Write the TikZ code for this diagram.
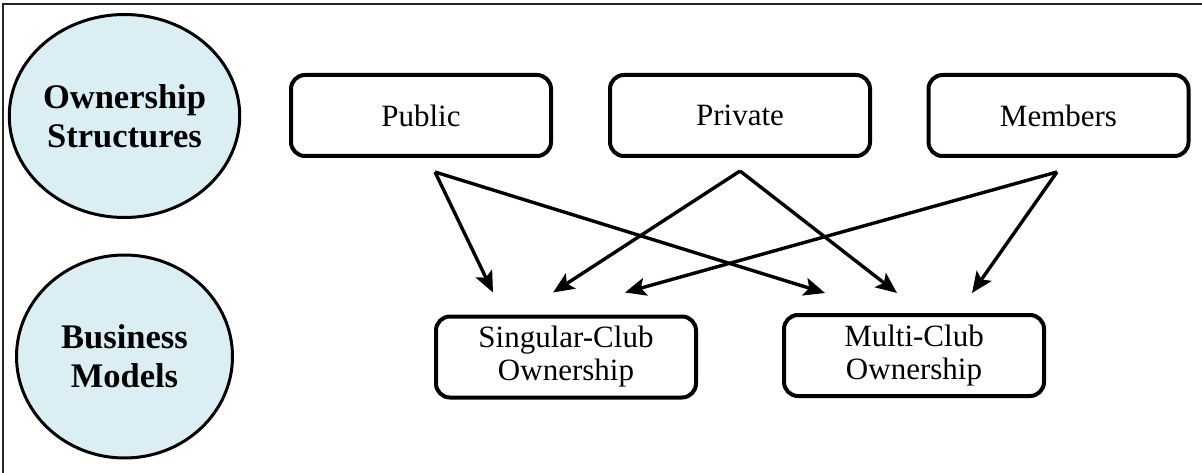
\documentclass[tikz,border=0pt]{standalone}
\usepackage{fontspec}
\setmainfont{Liberation Serif}
\usetikzlibrary{shapes.geometric,arrows.meta,calc}
\definecolor{circfill}{HTML}{DAEEF3}
\begin{document}
\begin{tikzpicture}[x=1pt,y=-1pt,
  levelcirc/.style={ellipse, draw=black, line width=3pt, fill=circfill,
    minimum width=216pt, minimum height=203pt, inner sep=0pt, align=center,
    font=\fontsize{34.5}{39}\selectfont\bfseries},
  ownbox/.style={rectangle, rounded corners=14pt, draw=black, line width=4pt,
    minimum width=260pt, minimum height=81pt, inner sep=0pt, align=center,
    font=\fontsize{31}{33}\selectfont},
  link/.style={line width=3.4pt, -{Stealth[length=21pt,width=18pt,inset=4.5pt]}}]
  \useasboundingbox (0,0) rectangle (1202,473);
  % frame
  \draw[line width=2pt, black!85] (2.5,473) -- (2.5,4) -- (1202,4);

  % level labels
  \node[levelcirc] (os) at (124.5,116) {Ownership\\Structures};
  \node[levelcirc] (bm) at (124.5,356.5) {Business\\Models};

  % ownership structures
  \node[ownbox] (pub)  at (421,115.5)   {Public};
  \node[ownbox] (priv) at (740,115.5)   {Private};
  \node[ownbox] (mem)  at (1058.5,115.5) {Members};

  % business models
  \node[ownbox] (sing)  at (566,357)   {Singular-Club\\Ownership};
  \node[ownbox] (multi) at (914,355.5) {Multi-Club\\Ownership};

  % arrow start and end points
  \coordinate (pubout)  at ($(pub.south)+(14,14)$);
  \coordinate (privout) at ($(priv.south)+(0,13)$);
  \coordinate (memout)  at ($(mem.south)+(-1.5,14)$);
  \coordinate (singA) at ($(sing.north)+(-73,-22)$);
  \coordinate (singB) at ($(sing.north)+(-13,-22)$);
  \coordinate (singC) at ($(sing.north)+(59,-22)$);
  \coordinate (multiA) at ($(multi.north)+(-89,-20)$);
  \coordinate (multiB) at ($(multi.north)+(-17,-20)$);
  \coordinate (multiC) at ($(multi.north)+(58,-20)$);

  % connectors
  \draw[link] (pubout) -- (singA);
  \draw[link] (pubout) -- (multiA);
  \draw[link] (privout) -- (singB);
  \draw[link] (privout) -- (multiB);
  \draw[link] (memout) -- (singC);
  \draw[link] (memout) -- (multiC);
\end{tikzpicture}
\end{document}
